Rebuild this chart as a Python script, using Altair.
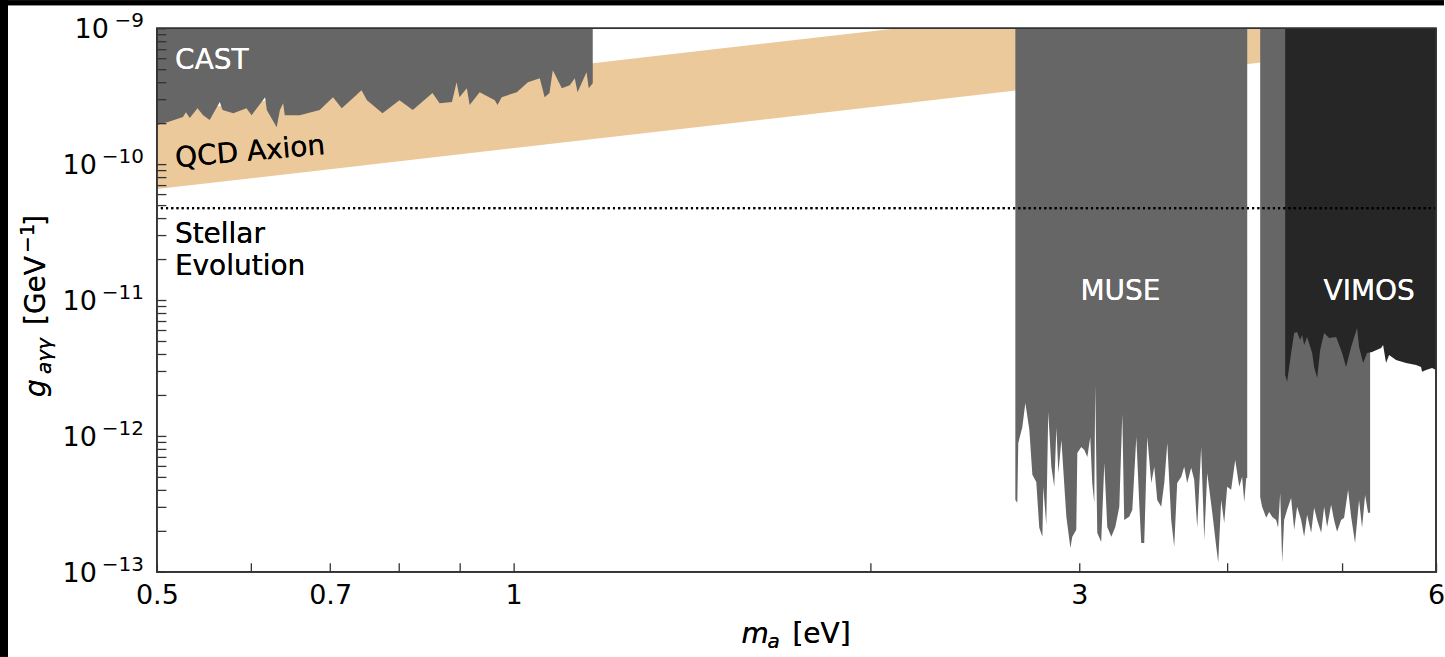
import altair as alt
import pandas as pd

FONT = "DejaVu Sans"
W, H = 1280, 544

# ---------------- data ----------------
# QCD axion band (straight on log-log axes): end points
qcd_mass = [0.5, 6.0]
qcd_low = [6.55e-11, 7.86e-10]
qcd_high = [2.37e-10, 2.84e-9]

# CAST exclusion (lower edge; excluded up to the top)
cast_mass = [0.500, 0.511, 0.526, 0.529, 0.533, 0.541, 0.547, 0.554, 0.565, 0.568,
             0.580, 0.595, 0.601, 0.617, 0.619, 0.631, 0.635, 0.639, 0.641, 0.660,
             0.686, 0.704, 0.716, 0.732, 0.744, 0.752, 0.775, 0.801, 0.822, 0.854,
             0.866, 0.887, 0.895, 0.900, 0.913, 0.918, 0.936, 0.964, 0.969, 0.977,
             1.006, 1.028, 1.052, 1.062, 1.072, 1.079, 1.098, 1.115, 1.126, 1.132,
             1.152, 1.157, 1.166]
cast_g = [1.94e-10, 2.04e-10, 2.22e-10, 2.41e-10, 2.18e-10, 2.58e-10, 2.29e-10, 2.11e-10, 2.86e-10, 2.50e-10,
          2.37e-10, 2.58e-10, 2.29e-10, 3.11e-10, 2.50e-10, 1.87e-10, 2.50e-10, 2.81e-10, 2.29e-10, 2.29e-10,
          2.50e-10, 3.11e-10, 2.58e-10, 3.06e-10, 3.50e-10, 2.95e-10, 2.37e-10, 2.95e-10, 2.50e-10, 3.33e-10,
          2.81e-10, 2.86e-10, 4.01e-10, 3.11e-10, 3.62e-10, 2.72e-10, 3.38e-10, 2.95e-10, 2.72e-10, 3.11e-10,
          3.38e-10, 4.01e-10, 4.29e-10, 3.11e-10, 3.33e-10, 4.91e-10, 3.62e-10, 3.81e-10, 4.29e-10, 3.38e-10,
          4.75e-10, 3.62e-10, 3.94e-10]

# MUSE exclusion
muse_mass = [2.650, 2.660, 2.665, 2.686, 2.702, 2.723, 2.739, 2.760, 2.776, 2.793,
             2.798, 2.814, 2.825, 2.842, 2.858, 2.870, 2.881, 2.898, 2.926, 2.949,
             2.960, 2.983, 2.989, 3.012, 3.030, 3.048, 3.065, 3.077, 3.089, 3.095,
             3.107, 3.131, 3.150, 3.168, 3.193, 3.218, 3.243, 3.262, 3.274, 3.306,
             3.326, 3.352, 3.371, 3.384, 3.404, 3.424, 3.451, 3.471, 3.491, 3.518,
             3.539, 3.560, 3.587, 3.608, 3.629, 3.658, 3.679, 3.700, 3.729, 3.751,
             3.773, 3.802, 3.825, 3.847, 3.885, 3.915, 3.930, 3.953, 3.976, 3.999,
             4.030, 4.062, 4.094, 4.117, 4.134, 4.150, 4.158]
muse_g = [3.38e-13, 3.22e-13, 8.88e-13, 1.16e-12, 1.75e-12, 1.11e-12, 5.17e-13, 4.59e-13, 2.11e-13, 1.81e-13,
          4.22e-13, 2.22e-13, 1.50e-12, 5.92e-13, 4.22e-13, 1.15e-12, 5.34e-13, 9.35e-13, 2.54e-13, 1.50e-13,
          1.81e-13, 2.04e-13, 7.50e-13, 8.30e-13, 7.89e-13, 7.01e-13, 9.83e-13, 4.51e-13, 3.22e-13, 2.37e-12,
          1.94e-13, 1.66e-13, 6.33e-13, 2.14e-13, 1.81e-13, 2.14e-13, 3.01e-13, 1.45e-12, 2.41e-13, 2.54e-13,
          2.86e-13, 9.83e-13, 3.22e-13, 1.63e-13, 1.63e-13, 9.83e-13, 4.51e-13, 5.92e-13, 3.38e-13, 3.01e-13,
          4.51e-13, 8.88e-13, 2.41e-13, 1.53e-13, 4.51e-13, 5.00e-13, 5.92e-13, 4.51e-13, 5.82e-13, 4.75e-13,
          2.11e-13, 8.30e-13, 1.72e-13, 5.34e-13, 2.72e-13, 1.53e-13, 1.17e-13, 3.38e-13, 2.29e-13, 4.22e-13,
          4.01e-13, 6.66e-13, 4.22e-13, 5.00e-13, 3.27e-13, 4.91e-13, 4.91e-13]

# second light-grey region (right of the gap)
muse2_mass = [4.264, 4.280, 4.314, 4.339, 4.364, 4.398, 4.415, 4.433, 4.450, 4.467,
              4.493, 4.528, 4.555, 4.581, 4.617, 4.644, 4.671, 4.708, 4.735, 4.763,
              4.800, 4.828, 4.856, 4.894, 4.922, 4.951, 4.990, 5.019, 5.058, 5.088,
              5.127, 5.167, 5.197, 5.228, 5.258, 5.279]
muse2_g = [3.56e-13, 3.01e-13, 2.50e-13, 2.76e-13, 2.54e-13, 2.41e-13, 2.11e-13, 3.81e-13, 1.17e-13, 2.41e-13,
           2.86e-13, 3.50e-13, 2.04e-13, 3.01e-13, 2.41e-13, 1.81e-13, 2.63e-13, 1.94e-13, 2.96e-13, 2.41e-13,
           1.94e-13, 3.01e-13, 2.14e-13, 3.11e-13, 2.41e-13, 1.97e-13, 2.41e-13, 2.50e-13, 4.01e-13, 2.54e-13,
           1.63e-13, 3.38e-13, 2.11e-13, 3.68e-13, 2.72e-13, 2.72e-13]

# VIMOS exclusion
vimos_mass = [4.476, 4.493, 4.528, 4.555, 4.581, 4.608, 4.626, 4.644, 4.671, 4.717,
              4.735, 4.763, 4.791, 4.828, 4.875, 4.942, 5.000, 5.038, 5.088, 5.147,
              5.167, 5.208, 5.248, 5.299, 5.393, 5.414, 5.445, 5.477, 5.552, 5.661,
              5.772, 5.828, 5.840, 5.885, 5.954, 6.000]
vimos_g = [2.81e-12, 2.50e-12, 4.08e-12, 5.72e-12, 5.82e-12, 5.08e-12, 5.53e-12, 4.67e-12, 5.34e-12, 4.08e-12,
           3.22e-12, 2.67e-12, 4.29e-12, 5.72e-12, 5.25e-12, 5.34e-12, 4.08e-12, 3.22e-12, 4.51e-12, 6.22e-12,
           4.51e-12, 3.44e-12, 4.08e-12, 4.15e-12, 4.44e-12, 4.67e-12, 3.44e-12, 3.94e-12, 3.62e-12, 3.44e-12,
           3.33e-12, 3.22e-12, 2.96e-12, 3.06e-12, 3.16e-12, 3.06e-12]

stellar_g = 4.75e-11

# axes
x_domain = [0.5, 6]
y_domain = [1e-13, 1e-9]
x_tick_values = [0.5, 0.6, 0.7, 0.8, 0.9, 1, 2, 3, 4, 5, 6]
x_tick_labels = [0.5, 0.7, 1, 3, 6]
y_decades = [-13, -12, -11, -10, -9]
y_label_base = "10"
y_label_exponents = ["\u221213", "\u221212", "\u221211", "\u221210", "\u22129"]

# ---------------- chart ----------------
assert len(cast_mass) == len(cast_g)
assert len(muse_mass) == len(muse_g)
assert len(muse2_mass) == len(muse2_g)
assert len(vimos_mass) == len(vimos_g)

y_tick_values = [k * 10.0 ** e for e in y_decades[:-1] for k in range(1, 10)] + [10.0 ** y_decades[-1]]
top_g = y_domain[1]

x_label_expr = ("indexof(" + str(x_tick_labels) + ", datum.value) >= 0 ? format(datum.value, '~g') : ''")

x_scale = alt.Scale(type="log", domain=x_domain, nice=False)
y_scale = alt.Scale(type="log", domain=y_domain, nice=False)

common_axis = dict(title=None, grid=False, domain=False, ticks=True, tickSize=9, offset=-9,
                   tickColor="#333333", tickWidth=1.3, labelFont=FONT, labelFontSize=27,
                   labelColor="black", labelOverlap=False, labelFlush=False, zindex=2)
x_axis = alt.Axis(values=x_tick_values, labelExpr=x_label_expr, labelPadding=11, **common_axis)
y_axis = alt.Axis(values=y_tick_values, labels=False, **common_axis)


def X(field):
    return alt.X(field, type="quantitative", scale=x_scale, axis=x_axis)


def Y(field):
    return alt.Y(field, type="quantitative", scale=y_scale, axis=y_axis)


def XD(v):
    return alt.XDatum(v, type="quantitative", scale=x_scale, axis=x_axis)


def YD(v):
    return alt.YDatum(v, type="quantitative", scale=y_scale, axis=y_axis)


qcd_df = pd.DataFrame({"mass": qcd_mass, "low": qcd_low, "high": qcd_high})
cast_df = pd.DataFrame({"mass": cast_mass, "g": cast_g, "top": top_g})
muse_df = pd.DataFrame({"mass": muse_mass, "g": muse_g, "top": top_g})
muse2_df = pd.DataFrame({"mass": muse2_mass, "g": muse2_g, "top": top_g})
vimos_df = pd.DataFrame({"mass": vimos_mass, "g": vimos_g, "top": top_g})
ylab_df = pd.DataFrame({"v": [10.0 ** e for e in y_decades], "base": y_label_base,
                        "exp": y_label_exponents})

GREY = "#666666"
DARK = "#262626"
BAND = "#EBC99A"

# black strips of the original figure's frame (top and left edge)
strip_top = alt.Chart(qcd_df).mark_rect(color="black").encode(
    x=alt.value(-157), x2=alt.value(W + 8), y=alt.value(-28), y2=alt.value(-23))
strip_left = alt.Chart(qcd_df).mark_rect(color="black").encode(
    x=alt.value(-157), x2=alt.value(-149), y=alt.value(-28), y2=alt.value(H + 85))

band = alt.Chart(qcd_df).mark_area(color=BAND, opacity=1, clip=True).encode(
    x=X("mass"), y=Y("low"), y2=alt.Y2("high"))


def region(df, color):
    return alt.Chart(df).mark_area(color=color, opacity=1, clip=True).encode(
        x=X("mass"), y=Y("g"), y2=alt.Y2("top"))


cast = region(cast_df, GREY)
muse = region(muse_df, GREY)
muse2 = region(muse2_df, GREY)
vimos = region(vimos_df, DARK)

stellar = alt.Chart(qcd_df).mark_rule(color="black", strokeWidth=2.2, strokeDash=[2, 3.2]).encode(
    y=YD(stellar_g))

# y tick labels 10^e as base + raised exponent
ylab_exp = alt.Chart(ylab_df).mark_text(
    font=FONT, fontSize=20, color="black", align="right", baseline="alphabetic", dy=-1
).encode(x=alt.value(-13), y=Y("v"), text="exp:N")
ylab_base1 = alt.Chart(ylab_df).transform_filter("length(datum.exp) == 2").mark_text(
    font=FONT, fontSize=27, color="black", align="right", baseline="alphabetic", dy=10
).encode(x=alt.value(-48), y=Y("v"), text="base:N")
ylab_base2 = alt.Chart(ylab_df).transform_filter("length(datum.exp) == 3").mark_text(
    font=FONT, fontSize=27, color="black", align="right", baseline="alphabetic", dy=10
).encode(x=alt.value(-60), y=Y("v"), text="base:N")


def label(text, xv, yv, color="black", align="left", angle=0):
    return alt.Chart(qcd_df).mark_text(
        text=text, font=FONT, fontSize=28, color=color, align=align,
        baseline="alphabetic", angle=angle).encode(x=XD(xv), y=YD(yv))


t_cast = label("CAST", 0.518, 5.0e-10, color="white")
t_qcd = label("QCD Axion", 0.519, 9.5e-11, angle=355)
t_st1 = label("Stellar", 0.5178, 2.62e-11)
t_st2 = label("Evolution", 0.5178, 1.53e-11)
t_muse = label("MUSE", 3.25, 1.0e-11, color="white", align="center")
t_vimos = label("VIMOS", 5.27, 1.0e-11, color="white", align="center")


def piece(text, xp, yp, size=28, italic=False, angle=0):
    kw = dict(text=text, font=FONT, fontSize=size, color="black", align="left",
              baseline="alphabetic", angle=angle)
    if italic:
        kw["fontStyle"] = "italic"
    return alt.Chart(qcd_df).mark_text(**kw).encode(x=alt.value(xp), y=alt.value(yp))


# x-axis title  m_a [eV]
xt1 = piece("m", 585, 615, italic=True)
xt2 = piece("a", 611, 620, size=20, italic=True)
xt3 = piece("[eV]", 636, 615)
# y-axis title  g_{aγγ} [GeV^-1]  (rotated)
yt1 = piece("g", -112, 369, italic=True, angle=270)
yt2 = piece("a\u03b3\u03b3", -106, 346, size=20, italic=True, angle=270)
yt3 = piece("[GeV", -112, 297, angle=270)
yt4 = piece("\u22121", -123, 225, size=20, angle=270)
yt5 = piece("]", -112, 198, angle=270)

frame = alt.Chart(qcd_df).mark_rect(filled=False, stroke="#333333", strokeWidth=1.6).encode(
    x=alt.value(0), x2=alt.value("width"), y=alt.value(0), y2=alt.value("height"))

chart = alt.layer(
    strip_top, strip_left, band, cast, muse, muse2, vimos, stellar,
    t_cast, t_qcd, t_st1, t_st2, t_muse, t_vimos,
    ylab_exp, ylab_base1, ylab_base2,
    xt1, xt2, xt3, yt1, yt2, yt3, yt4, yt5, frame
).properties(
    width=W, height=H, padding=0, background="white"
).configure_view(stroke=None).configure(font=FONT)

chart.save("out.html", embed_options={"renderer": "svg", "actions": False})
